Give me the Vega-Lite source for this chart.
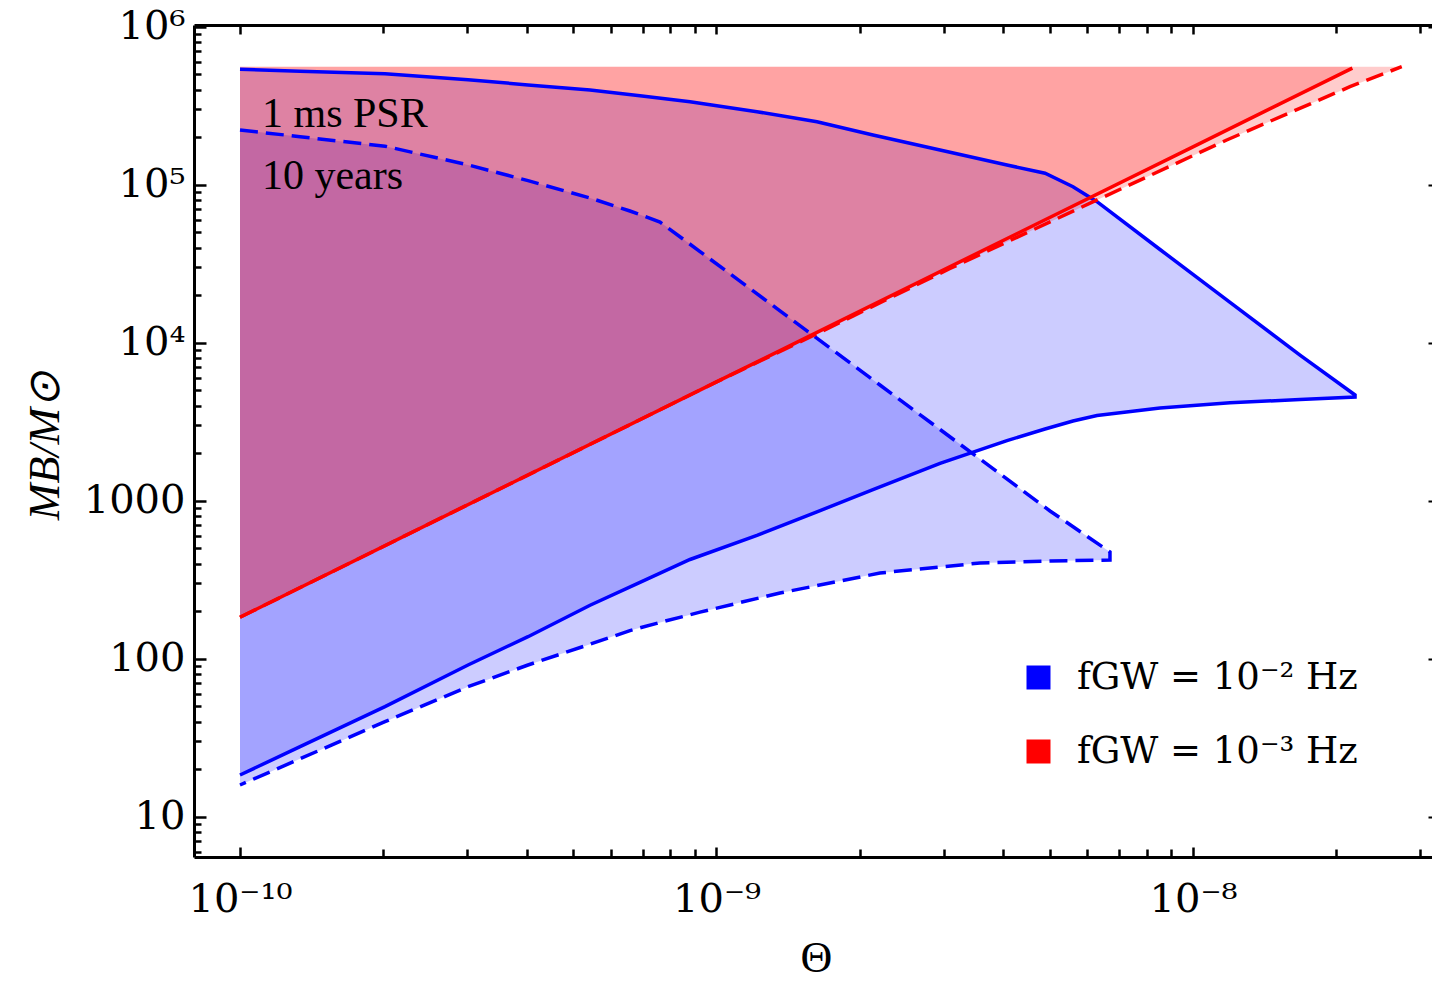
{
  "$schema": "https://vega.github.io/schema/vega-lite/v6.json",
  "width": 1238,
  "height": 832,
  "autosize": {"type": "none"},
  "padding": {"left": 194, "top": 25, "right": 0, "bottom": 125},
  "background": "white",
  "config": {"view": {"stroke": null}, "font": "Liberation Serif"},
  "datasets": {
    "blueSolidArea": [
      {"x": 1e-10, "lo": 18.36, "hi": 537700},
      {"x": 1.337e-10, "lo": 27.73, "hi": 523100},
      {"x": 2.015e-10, "lo": 49.69, "hi": 503600},
      {"x": 3.010e-10, "lo": 91.23, "hi": 462000},
      {"x": 4.022e-10, "lo": 137.8, "hi": 428100},
      {"x": 5.428e-10, "lo": 217.8, "hi": 397600},
      {"x": 6.909e-10, "lo": 304.4, "hi": 365900},
      {"x": 8.799e-10, "lo": 424.5, "hi": 335300},
      {"x": 1.216e-9, "lo": 603.9, "hi": 289700},
      {"x": 1.625e-9, "lo": 849.5, "hi": 250400},
      {"x": 2.130e-9, "lo": 1177, "hi": 206300},
      {"x": 2.945e-9, "lo": 1722, "hi": 165800},
      {"x": 4.070e-9, "lo": 2401, "hi": 133300},
      {"x": 4.892e-9, "lo": 2843, "hi": 118100},
      {"x": 5.599e-9, "lo": 3195, "hi": 97120},
      {"x": 6.288e-9, "lo": 3461, "hi": 78070},
      {"x": 8.525e-9, "lo": 3861, "hi": 38900},
      {"x": 1.196e-8, "lo": 4165, "hi": 18020},
      {"x": 1.677e-8, "lo": 4371, "hi": 8333},
      {"x": 2.188e-8, "lo": 4533, "hi": 4667}
    ],
    "blueDashedArea": [
      {"x": 1e-10, "lo": 15.87, "hi": 221900},
      {"x": 1.337e-10, "lo": 23.25, "hi": 201300},
      {"x": 2.015e-10, "lo": 39.94, "hi": 175300},
      {"x": 3.010e-10, "lo": 66.5, "hi": 133500},
      {"x": 4.022e-10, "lo": 91.23, "hi": 106100},
      {"x": 5.428e-10, "lo": 123.5, "hi": 82380},
      {"x": 6.582e-10, "lo": 150.6, "hi": 68160},
      {"x": 7.612e-10, "lo": 169.7, "hi": 58050},
      {"x": 9.234e-10, "lo": 197.0, "hi": 37730},
      {"x": 1.359e-9, "lo": 260.5, "hi": 15900},
      {"x": 2.203e-9, "lo": 348.6, "hi": 5398},
      {"x": 3.573e-9, "lo": 403.4, "hi": 1834},
      {"x": 5.011e-9, "lo": 415.3, "hi": 860.6},
      {"x": 6.695e-9, "lo": 421.4, "hi": 473.6}
    ],
    "redSolidArea": [
      {"x": 1e-10, "lo": 182.8, "hi": 558300},
      {"x": 1e-9, "lo": 5650, "hi": 558300},
      {"x": 1e-8, "lo": 173700, "hi": 558300},
      {"x": 2.16e-8, "lo": 546900, "hi": 558300}
    ],
    "redDashedArea": [
      {"x": 1e-10, "lo": 182.8, "hi": 558300},
      {"x": 1e-9, "lo": 5650, "hi": 558300},
      {"x": 1.597e-9, "lo": 11110, "hi": 558300},
      {"x": 3.09e-9, "lo": 29490, "hi": 558300},
      {"x": 6.177e-9, "lo": 78070, "hi": 558300},
      {"x": 1.177e-8, "lo": 191800, "hi": 558300},
      {"x": 2.135e-8, "lo": 417300, "hi": 558300},
      {"x": 2.742e-8, "lo": 558300, "hi": 558300}
    ],
    "blueSolidLine": [
      {"i": 0, "x": 1e-10, "y": 537700},
      {"i": 1, "x": 1.337e-10, "y": 523100},
      {"i": 2, "x": 2.015e-10, "y": 503600},
      {"i": 3, "x": 3.010e-10, "y": 462000},
      {"i": 4, "x": 4.022e-10, "y": 428100},
      {"i": 5, "x": 5.428e-10, "y": 397600},
      {"i": 6, "x": 6.909e-10, "y": 365900},
      {"i": 7, "x": 8.799e-10, "y": 335300},
      {"i": 8, "x": 1.216e-9, "y": 289700},
      {"i": 9, "x": 1.625e-9, "y": 250400},
      {"i": 10, "x": 2.130e-9, "y": 206300},
      {"i": 11, "x": 2.945e-9, "y": 165800},
      {"i": 12, "x": 4.070e-9, "y": 133300},
      {"i": 13, "x": 4.892e-9, "y": 118100},
      {"i": 14, "x": 5.599e-9, "y": 97120},
      {"i": 15, "x": 6.288e-9, "y": 78070},
      {"i": 16, "x": 8.525e-9, "y": 38900},
      {"i": 17, "x": 1.196e-8, "y": 18020},
      {"i": 18, "x": 1.677e-8, "y": 8333},
      {"i": 19, "x": 2.188e-8, "y": 4667},
      {"i": 20, "x": 2.188e-8, "y": 4533},
      {"i": 21, "x": 1.677e-8, "y": 4371},
      {"i": 22, "x": 1.196e-8, "y": 4165},
      {"i": 23, "x": 8.525e-9, "y": 3861},
      {"i": 24, "x": 6.288e-9, "y": 3461},
      {"i": 25, "x": 5.599e-9, "y": 3195},
      {"i": 26, "x": 4.892e-9, "y": 2843},
      {"i": 27, "x": 4.070e-9, "y": 2401},
      {"i": 28, "x": 2.945e-9, "y": 1722},
      {"i": 29, "x": 2.130e-9, "y": 1177},
      {"i": 30, "x": 1.625e-9, "y": 849.5},
      {"i": 31, "x": 1.216e-9, "y": 603.9},
      {"i": 32, "x": 8.799e-10, "y": 424.5},
      {"i": 33, "x": 6.909e-10, "y": 304.4},
      {"i": 34, "x": 5.428e-10, "y": 217.8},
      {"i": 35, "x": 4.022e-10, "y": 137.8},
      {"i": 36, "x": 3.010e-10, "y": 91.23},
      {"i": 37, "x": 2.015e-10, "y": 49.69},
      {"i": 38, "x": 1.337e-10, "y": 27.73},
      {"i": 39, "x": 1e-10, "y": 18.36}
    ],
    "blueDashedLine": [
      {"i": 0, "x": 1e-10, "y": 221900},
      {"i": 1, "x": 1.337e-10, "y": 201300},
      {"i": 2, "x": 2.015e-10, "y": 175300},
      {"i": 3, "x": 3.010e-10, "y": 133500},
      {"i": 4, "x": 4.022e-10, "y": 106100},
      {"i": 5, "x": 5.428e-10, "y": 82380},
      {"i": 6, "x": 6.582e-10, "y": 68160},
      {"i": 7, "x": 7.612e-10, "y": 58050},
      {"i": 8, "x": 9.234e-10, "y": 37730},
      {"i": 9, "x": 1.359e-9, "y": 15900},
      {"i": 10, "x": 2.203e-9, "y": 5398},
      {"i": 11, "x": 3.573e-9, "y": 1834},
      {"i": 12, "x": 5.011e-9, "y": 860.6},
      {"i": 13, "x": 6.695e-9, "y": 473.6},
      {"i": 14, "x": 6.695e-9, "y": 421.4},
      {"i": 15, "x": 5.011e-9, "y": 415.3},
      {"i": 16, "x": 3.573e-9, "y": 403.4},
      {"i": 17, "x": 2.203e-9, "y": 348.6},
      {"i": 18, "x": 1.359e-9, "y": 260.5},
      {"i": 19, "x": 9.234e-10, "y": 197.0},
      {"i": 20, "x": 7.612e-10, "y": 169.7},
      {"i": 21, "x": 6.582e-10, "y": 150.6},
      {"i": 22, "x": 5.428e-10, "y": 123.5},
      {"i": 23, "x": 4.022e-10, "y": 91.23},
      {"i": 24, "x": 3.010e-10, "y": 66.5},
      {"i": 25, "x": 2.015e-10, "y": 39.94},
      {"i": 26, "x": 1.337e-10, "y": 23.25},
      {"i": 27, "x": 1e-10, "y": 15.87}
    ],
    "redSolidLine": [
      {"i": 0, "x": 1e-10, "y": 182.8},
      {"i": 1, "x": 1e-9, "y": 5650},
      {"i": 2, "x": 1e-8, "y": 173700},
      {"i": 3, "x": 2.16e-8, "y": 546900}
    ],
    "redDashedLine": [
      {"i": 0, "x": 1e-10, "y": 182.8},
      {"i": 1, "x": 1e-9, "y": 5650},
      {"i": 2, "x": 1.597e-9, "y": 11110},
      {"i": 3, "x": 3.09e-9, "y": 29490},
      {"i": 4, "x": 6.177e-9, "y": 78070},
      {"i": 5, "x": 1.177e-8, "y": 191800},
      {"i": 6, "x": 2.135e-8, "y": 417300},
      {"i": 7, "x": 2.742e-8, "y": 558300}
    ],
    "notes": [
      {"x": 1.112e-10, "y": 231800, "t": "1 ms PSR"},
      {"x": 1.112e-10, "y": 93930, "t": "10 years"}
    ]
  },
  "layer": [
    {
      "data": {"name": "blueSolidArea"},
      "mark": {"type": "area", "fillOpacity": 0.2},
      "encoding": {
        "x": {"field": "x", "type": "quantitative",
          "scale": {"type": "log", "domain": [8.007e-11, 3.1737e-8], "nice": false},
          "axis": {"orient": "bottom", "values": [1e-10, 1e-9, 1e-8], "grid": false,
            "domain": true, "domainColor": "black", "domainWidth": 3,
            "ticks": true, "tickSize": -10, "tickWidth": 2.5, "tickColor": "black",
            "labels": true, "labelExpr": "datum.value < 5e-10 ? '10⁻¹⁰' : datum.value < 5e-9 ? '10⁻⁹' : '10⁻⁸'",
            "labelFont": "DejaVu Serif", "labelFontSize": 40, "labelColor": "black",
            "labelPadding": 32, "labelOverlap": false, "labelFlush": false, "labelBound": false,
            "title": "Θ", "titleFont": "Liberation Serif", "titleFontSize": 44, "titleFontWeight": "normal",
            "titleColor": "black", "titleX": 622, "titleY": 114, "titleBaseline": "alphabetic", "titleAlign": "center"}},
        "y": {"field": "lo", "type": "quantitative",
          "scale": {"type": "log", "domain": [5.557, 1025200], "nice": false},
          "axis": {"orient": "left", "values": [10, 100, 1000, 10000, 100000, 1000000], "grid": false,
            "domain": true, "domainColor": "black", "domainWidth": 3,
            "ticks": true, "tickSize": -12, "tickWidth": 2.5, "tickColor": "black",
            "labels": true, "labelExpr": "datum.value >= 500000 ? '10⁶' : datum.value >= 50000 ? '10⁵' : datum.value >= 5000 ? '10⁴' : datum.value >= 500 ? '1000' : datum.value >= 50 ? '100' : '10'",
            "labelFont": "DejaVu Serif", "labelFontSize": 40, "labelColor": "black",
            "labelPadding": 21, "labelOverlap": false, "labelFlush": false, "labelBound": false, "labelBaseline": "middle",
            "title": "MB/M⊙", "titleFont": "Liberation Serif", "titleFontSize": 44, "titleFontWeight": "normal", "titleFontStyle": "italic",
            "titleColor": "black", "titleX": -136, "titleY": 420, "titleBaseline": "alphabetic", "titleAlign": "center", "titleAngle": 270}},
        "y2": {"field": "hi"},
        "color": {"datum": "fGW = 10⁻² Hz", "type": "nominal",
          "scale": {"domain": ["fGW = 10⁻² Hz", "fGW = 10⁻³ Hz"], "range": ["#0000ff", "#ff0000"]},
          "legend": {"orient": "none", "legendX": 826, "legendY": 634, "title": null, "padding": 0,
            "symbolType": "square", "symbolSize": 576, "symbolStrokeWidth": 0, "symbolOpacity": 1,
            "labelFont": "DejaVu Serif", "labelFontSize": 37, "labelColor": "black", "labelLimit": 0,
            "labelOffset": 20, "rowPadding": 36,
            "encode": {"symbols": {"update": {"opacity": {"value": 1}, "fillOpacity": {"value": 1}}}}}}
      }
    },
    {
      "data": {"name": "blueDashedArea"},
      "mark": {"type": "area", "fillOpacity": 0.2},
      "encoding": {
        "x": {"field": "x", "type": "quantitative",
          "scale": {"type": "log", "domain": [8.007e-11, 3.1737e-8], "nice": false},
          "axis": {"orient": "bottom", "values": [2e-10, 3e-10, 4e-10, 5e-10, 6e-10, 7e-10, 8e-10, 9e-10, 2e-9, 3e-9, 4e-9, 5e-9, 6e-9, 7e-9, 8e-9, 9e-9, 2e-8, 3e-8],
            "grid": false, "domain": false, "ticks": true, "tickSize": -8, "tickWidth": 2.5, "tickColor": "black",
            "labels": false, "title": null}},
        "y": {"field": "lo", "type": "quantitative",
          "scale": {"type": "log", "domain": [5.557, 1025200], "nice": false},
          "axis": {"orient": "left", "values": [6, 7, 8, 9, 20, 30, 40, 50, 60, 70, 80, 90, 200, 300, 400, 500, 600, 700, 800, 900, 2000, 3000, 4000, 5000, 6000, 7000, 8000, 9000, 20000, 30000, 40000, 50000, 60000, 70000, 80000, 90000, 200000, 300000, 400000, 500000, 600000, 700000, 800000, 900000],
            "grid": false, "domain": false, "ticks": true, "tickSize": -7, "tickWidth": 2.5, "tickColor": "black",
            "labels": false, "title": null}},
        "y2": {"field": "hi"},
        "color": {"datum": "fGW = 10⁻² Hz", "type": "nominal"}
      }
    },
    {
      "data": {"name": "redSolidArea"},
      "mark": {"type": "area", "fillOpacity": 0.2},
      "encoding": {
        "x": {"field": "x", "type": "quantitative",
          "scale": {"type": "log", "domain": [8.007e-11, 3.1737e-8], "nice": false},
          "axis": {"orient": "top", "values": [1e-10, 1e-9, 1e-8], "grid": false,
            "domain": true, "domainColor": "black", "domainWidth": 3,
            "ticks": true, "tickSize": -9, "tickWidth": 2.5, "tickColor": "black",
            "labels": false, "title": null}},
        "y": {"field": "lo", "type": "quantitative",
          "scale": {"type": "log", "domain": [5.557, 1025200], "nice": false},
          "axis": {"orient": "right", "values": [10, 100, 1000, 10000, 100000, 1000000], "grid": false,
            "domain": false, "ticks": true, "tickSize": -4, "tickWidth": 2, "tickColor": "black",
            "labels": false, "title": null}},
        "y2": {"field": "hi"},
        "color": {"datum": "fGW = 10⁻³ Hz", "type": "nominal"}
      }
    },
    {
      "data": {"name": "redDashedArea"},
      "mark": {"type": "area", "fillOpacity": 0.2},
      "encoding": {
        "x": {"field": "x", "type": "quantitative",
          "scale": {"type": "log", "domain": [8.007e-11, 3.1737e-8], "nice": false},
          "axis": {"orient": "top", "values": [2e-10, 3e-10, 4e-10, 5e-10, 6e-10, 7e-10, 8e-10, 9e-10, 2e-9, 3e-9, 4e-9, 5e-9, 6e-9, 7e-9, 8e-9, 9e-9, 2e-8, 3e-8],
            "grid": false, "domain": false, "ticks": true, "tickSize": -8, "tickWidth": 2.5, "tickColor": "black",
            "labels": false, "title": null}},
        "y": {"field": "lo", "type": "quantitative",
          "scale": {"type": "log", "domain": [5.557, 1025200], "nice": false}, "axis": null},
        "y2": {"field": "hi"},
        "color": {"datum": "fGW = 10⁻³ Hz", "type": "nominal"}
      }
    },
    {
      "data": {"name": "blueSolidLine"},
      "mark": {"type": "line", "color": "#0000ff", "strokeWidth": 3.5},
      "encoding": {
        "x": {"field": "x", "type": "quantitative", "scale": {"type": "log", "domain": [8.007e-11, 3.1737e-8], "nice": false}, "axis": null},
        "y": {"field": "y", "type": "quantitative", "scale": {"type": "log", "domain": [5.557, 1025200], "nice": false}, "axis": null},
        "order": {"field": "i", "type": "quantitative"}
      }
    },
    {
      "data": {"name": "blueDashedLine"},
      "mark": {"type": "line", "color": "#0000ff", "strokeWidth": 3.5, "strokeDash": [18, 8]},
      "encoding": {
        "x": {"field": "x", "type": "quantitative", "scale": {"type": "log", "domain": [8.007e-11, 3.1737e-8], "nice": false}, "axis": null},
        "y": {"field": "y", "type": "quantitative", "scale": {"type": "log", "domain": [5.557, 1025200], "nice": false}, "axis": null},
        "order": {"field": "i", "type": "quantitative"}
      }
    },
    {
      "data": {"name": "redSolidLine"},
      "mark": {"type": "line", "color": "#ff0000", "strokeWidth": 3.5},
      "encoding": {
        "x": {"field": "x", "type": "quantitative", "scale": {"type": "log", "domain": [8.007e-11, 3.1737e-8], "nice": false}, "axis": null},
        "y": {"field": "y", "type": "quantitative", "scale": {"type": "log", "domain": [5.557, 1025200], "nice": false}, "axis": null},
        "order": {"field": "i", "type": "quantitative"}
      }
    },
    {
      "data": {"name": "redDashedLine"},
      "mark": {"type": "line", "color": "#ff0000", "strokeWidth": 3.5, "strokeDash": [18, 8]},
      "encoding": {
        "x": {"field": "x", "type": "quantitative", "scale": {"type": "log", "domain": [8.007e-11, 3.1737e-8], "nice": false}, "axis": null},
        "y": {"field": "y", "type": "quantitative", "scale": {"type": "log", "domain": [5.557, 1025200], "nice": false}, "axis": null},
        "order": {"field": "i", "type": "quantitative"}
      }
    },
    {
      "data": {"name": "notes"},
      "mark": {"type": "text", "align": "left", "baseline": "alphabetic", "font": "Liberation Serif", "fontSize": 42, "color": "black"},
      "encoding": {
        "x": {"field": "x", "type": "quantitative", "scale": {"type": "log", "domain": [8.007e-11, 3.1737e-8], "nice": false}, "axis": null},
        "y": {"field": "y", "type": "quantitative", "scale": {"type": "log", "domain": [5.557, 1025200], "nice": false}, "axis": null},
        "text": {"field": "t"}
      }
    }
  ],
  "resolve": {"axis": {"x": "independent", "y": "independent"}}
}
